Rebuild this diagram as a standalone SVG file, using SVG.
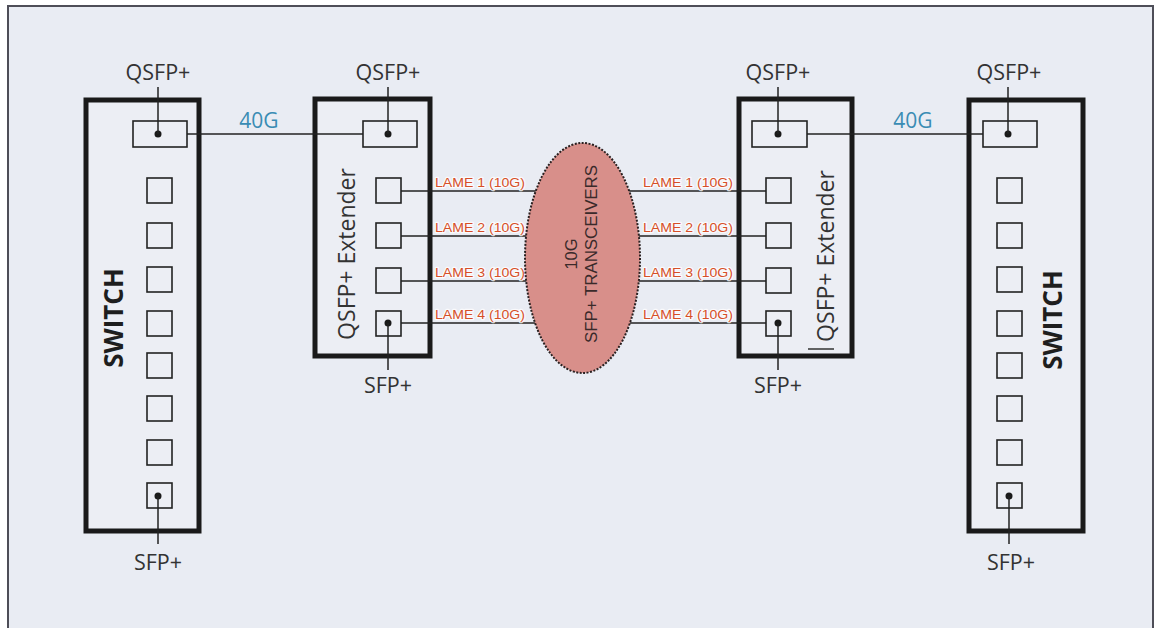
<svg xmlns="http://www.w3.org/2000/svg" width="1157" height="628" viewBox="0 0 1157 628">
<style>
.box{fill:#eceef4;stroke:#1a1a1a;stroke-width:5}
.port{fill:none;stroke:#222;stroke-width:1.6}
.dot{fill:#1a1a1a}
.wire{stroke:#222;stroke-width:1.5;fill:none}
.lbl{font-family:"Open Sans","Liberation Sans",sans-serif;font-size:21.5px;fill:#333;text-anchor:middle}
.g40{font-family:"Open Sans","Liberation Sans",sans-serif;font-size:21px;fill:#3a8cb4;text-anchor:middle}
.sw{font-family:"Open Sans","Liberation Sans",sans-serif;font-size:26px;font-weight:bold;fill:#1e1e1e;text-anchor:middle}
.ext{font-family:"Open Sans","Liberation Sans",sans-serif;font-size:23px;fill:#333;text-anchor:middle}
.lane{font-family:"Liberation Sans",sans-serif;font-size:13.5px;fill:#d64f28;stroke:#ffffff;stroke-width:2.5;stroke-opacity:0.8;paint-order:stroke;stroke-linejoin:round}
.tr{font-family:"Liberation Sans",sans-serif;font-size:16.5px;fill:#3a2a2a;text-anchor:middle}
</style>
<rect x="0" y="0" width="1157" height="628" fill="#ffffff"/>
<rect x="8" y="6" width="1145" height="640" fill="#e9ecf3" stroke="#4e4e58" stroke-width="2"/>

<g id="switch-left">
<rect class="box" x="86" y="100" width="113" height="431"/>
<rect class="port" x="133" y="121" width="54" height="26"/>
<circle class="dot" cx="158" cy="134" r="3.5"/>
<rect class="port" x="147" y="178" width="25" height="25"/>
<rect class="port" x="147" y="223" width="25" height="25"/>
<rect class="port" x="147" y="267" width="25" height="25"/>
<rect class="port" x="147" y="311" width="25" height="25"/>
<rect class="port" x="147" y="353" width="25" height="25"/>
<rect class="port" x="147" y="396" width="25" height="25"/>
<rect class="port" x="147" y="440" width="25" height="25"/>
<rect class="port" x="147" y="483" width="25" height="25"/>
<circle class="dot" cx="158" cy="496" r="3.5"/>
<text class="sw" transform="translate(123,318) rotate(-90)">SWITCH</text>
<text class="lbl" x="158" y="80">QSFP+</text>
<text class="lbl" x="158" y="570">SFP+</text>
</g>

<g id="extender-left">
<rect class="box" x="315" y="99" width="115" height="257"/>
<rect class="port" x="363" y="121" width="54" height="26"/>
<circle class="dot" cx="388" cy="134" r="3.5"/>
<rect class="port" x="376" y="178" width="25" height="25"/>
<rect class="port" x="376" y="223" width="25" height="25"/>
<rect class="port" x="376" y="268" width="25" height="25"/>
<rect class="port" x="376" y="311" width="25" height="25"/>
<circle class="dot" cx="388" cy="323" r="3.5"/>
<text class="ext" transform="translate(355,254) rotate(-90)">QSFP+ Extender</text>
<text class="lbl" x="388" y="80">QSFP+</text>
<text class="lbl" x="388" y="393">SFP+</text>
</g>

<g id="extender-right">
<rect class="box" x="739" y="99" width="113" height="257"/>
<rect class="port" x="752" y="121" width="55" height="26"/>
<circle class="dot" cx="778" cy="134" r="3.5"/>
<rect class="port" x="766" y="178" width="25" height="25"/>
<rect class="port" x="766" y="223" width="25" height="25"/>
<rect class="port" x="766" y="268" width="25" height="25"/>
<rect class="port" x="766" y="311" width="25" height="25"/>
<circle class="dot" cx="778" cy="323" r="3.5"/>
<text class="ext" transform="translate(834,256) rotate(-90)">QSFP+ Extender</text>
<line x1="808" y1="349" x2="834" y2="349" stroke="#333" stroke-width="1.5"/>
<text class="lbl" x="778" y="80">QSFP+</text>
<text class="lbl" x="778" y="393">SFP+</text>
</g>

<g id="switch-right">
<rect class="box" x="969" y="100" width="114" height="431"/>
<rect class="port" x="983" y="121" width="54" height="26"/>
<circle class="dot" cx="1008" cy="134" r="3.5"/>
<rect class="port" x="997" y="178" width="25" height="25"/>
<rect class="port" x="997" y="223" width="25" height="25"/>
<rect class="port" x="997" y="267" width="25" height="25"/>
<rect class="port" x="997" y="311" width="25" height="25"/>
<rect class="port" x="997" y="353" width="25" height="25"/>
<rect class="port" x="997" y="396" width="25" height="25"/>
<rect class="port" x="997" y="440" width="25" height="25"/>
<rect class="port" x="997" y="483" width="25" height="25"/>
<circle class="dot" cx="1009" cy="496" r="3.5"/>
<text class="sw" transform="translate(1062,320) rotate(-90)">SWITCH</text>
<text class="lbl" x="1009" y="80">QSFP+</text>
<text class="lbl" x="1011" y="570">SFP+</text>
</g>

<g id="connectors">
<line class="wire" x1="158" y1="87" x2="158" y2="134"/>
<line class="wire" x1="388" y1="87" x2="388" y2="134"/>
<line class="wire" x1="778" y1="87" x2="778" y2="134"/>
<line class="wire" x1="1008" y1="87" x2="1008" y2="134"/>
<line class="wire" x1="158" y1="496" x2="158" y2="544"/>
<line class="wire" x1="1009" y1="496" x2="1009" y2="544"/>
<line class="wire" x1="388" y1="323" x2="388" y2="370"/>
<line class="wire" x1="778" y1="323" x2="778" y2="370"/>
<line class="wire" x1="187" y1="134" x2="363" y2="134"/>
<line class="wire" x1="807" y1="134" x2="983" y2="134"/>
<text class="g40" x="259" y="128">40G</text>
<text class="g40" x="913" y="128">40G</text>
<line class="wire" x1="401" y1="191" x2="582" y2="191"/>
<line class="wire" x1="401" y1="236" x2="582" y2="236"/>
<line class="wire" x1="401" y1="281" x2="582" y2="281"/>
<line class="wire" x1="401" y1="323" x2="582" y2="323"/>
<line class="wire" x1="582" y1="191" x2="766" y2="191"/>
<line class="wire" x1="582" y1="236" x2="766" y2="236"/>
<line class="wire" x1="582" y1="281" x2="766" y2="281"/>
<line class="wire" x1="582" y1="323" x2="766" y2="323"/>
<text class="lane" x="435" y="187" textLength="90" lengthAdjust="spacingAndGlyphs">LAME 1 (10G)</text>
<text class="lane" x="435" y="232" textLength="90" lengthAdjust="spacingAndGlyphs">LAME 2 (10G)</text>
<text class="lane" x="435" y="277" textLength="90" lengthAdjust="spacingAndGlyphs">LAME 3 (10G)</text>
<text class="lane" x="435" y="319" textLength="90" lengthAdjust="spacingAndGlyphs">LAME 4 (10G)</text>
<text class="lane" x="643" y="187" textLength="90" lengthAdjust="spacingAndGlyphs">LAME 1 (10G)</text>
<text class="lane" x="643" y="232" textLength="90" lengthAdjust="spacingAndGlyphs">LAME 2 (10G)</text>
<text class="lane" x="643" y="277" textLength="90" lengthAdjust="spacingAndGlyphs">LAME 3 (10G)</text>
<text class="lane" x="643" y="319" textLength="90" lengthAdjust="spacingAndGlyphs">LAME 4 (10G)</text>
</g>

<g id="transceivers">
<ellipse cx="582.5" cy="258" rx="57.5" ry="115" fill="#d88f8a" stroke="#2a2020" stroke-width="2" stroke-dasharray="2,1.5"/>
<text class="tr" transform="translate(577,254) rotate(-90)">10G</text>
<text class="tr" transform="translate(597,254) rotate(-90)" textLength="178" lengthAdjust="spacingAndGlyphs">SFP+ TRANSCEIVERS</text>
</g>
</svg>
